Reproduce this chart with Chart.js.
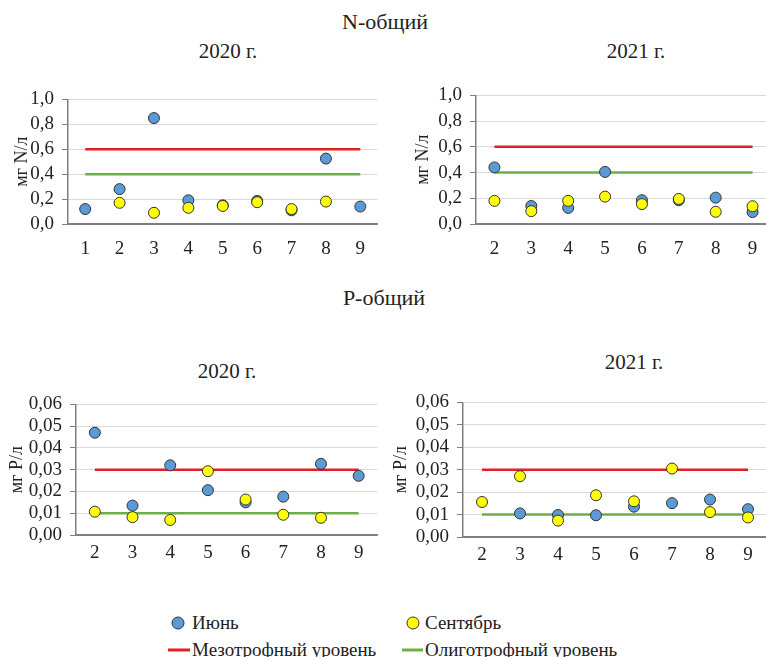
<!DOCTYPE html>
<html lang="ru">
<head>
<meta charset="utf-8">
<script src="https://cdn.jsdelivr.net/npm/chart.js@4/dist/chart.umd.min.js"></script>
<style>
  html, body { margin: 0; padding: 0; background: #fff; }
  body { width: 766px; height: 657px; position: relative; overflow: hidden; font-family: "Liberation Serif", serif; color: #222; }
  canvas { position: absolute; }
  .t { position: absolute; white-space: nowrap; transform: translate(-50%, -50%); font-size: 21px; }
  .leg { position: absolute; white-space: nowrap; font-size: 19px; transform: translateY(-50%); }
  .dot { position: absolute; width: 11px; height: 11px; border-radius: 50%; border: 1px solid #333; transform: translate(-50%, -50%); }
  .bar { position: absolute; height: 3px; transform: translateY(-50%); }
</style>
</head>
<body>
<div class="t" style="left:385px; top:22px; font-size:22px;">N-общий</div>
<div class="t" style="left:228px; top:51px;">2020 г.</div>
<div class="t" style="left:636px; top:51px;">2021 г.</div>
<div class="t" style="left:384px; top:298px; font-size:22px;">P-общий</div>
<div class="t" style="left:227px; top:371px;">2020 г.</div>
<div class="t" style="left:634px; top:362px;">2021 г.</div>

<canvas id="n2020"></canvas>
<canvas id="n2021"></canvas>
<canvas id="p2020"></canvas>
<canvas id="p2021"></canvas>

<div class="dot" style="left:178px; top:623px; background:#5b9bd5;"></div>
<div class="leg" style="left:192px; top:623px;">Июнь</div>
<div class="dot" style="left:413px; top:623px; background:#ffff00;"></div>
<div class="leg" style="left:425px; top:623px;">Сентябрь</div>
<div class="bar" style="left:168px; top:650px; width:22px; background:#e31e24;"></div>
<div class="leg" style="left:192px; top:650px;">Мезотрофный уровень</div>
<div class="bar" style="left:402px; top:650px; width:21px; background:#70ad47;"></div>
<div class="leg" style="left:425px; top:650px;">Олиготрофный уровень</div>

<script>
// Stations
const stations2020N = ['1', '2', '3', '4', '5', '6', '7', '8', '9'];
const stations = ['2', '3', '4', '5', '6', '7', '8', '9'];

// N-общий, мг N/л
const juneN2020 = [0.12, 0.28, 0.85, 0.19, 0.15, 0.185, 0.11, 0.525, 0.14];
const septN2020 = [null, 0.17, 0.09, 0.13, 0.145, 0.175, 0.12, 0.18, null];
const juneN2021 = [0.44, 0.14, 0.125, 0.405, 0.185, 0.185, 0.205, 0.093];
const septN2021 = [0.18, 0.10, 0.18, 0.213, 0.155, 0.195, 0.095, 0.138];

// P-общий, мг P/л
const juneP2020 = [0.047, 0.0135, 0.032, 0.0206, 0.015, 0.0176, 0.0327, 0.0272];
const septP2020 = [0.0107, 0.0082, 0.0069, 0.0293, 0.0163, 0.0093, 0.0079, null];
const juneP2021 = [null, 0.0105, 0.0098, 0.0097, 0.0135, 0.0151, 0.0167, 0.0124];
const septP2021 = [0.0156, 0.0271, 0.0073, 0.0186, 0.0159, 0.0305, 0.0111, 0.0087];

// Trophic levels
const mezoN = 0.6, oligoN = 0.4;
const mezoP = 0.03, oligoP = 0.01;

const axisColor = '#7f7f7f';
const gridColor = '#d9d9d9';
const textColor = '#222';
const tickFont = { family: 'Liberation Serif', size: 19 };
const titleFont = { family: 'Liberation Serif', size: 18 };

function makePanel(id, labels, june, sept, mezo, oligo, yMax, step, digits, yTitle, box) {
    const canvas = document.getElementById(id);
    canvas.width = box.width;
    canvas.height = box.height;
    canvas.style.left = box.left + 'px';
    canvas.style.top = box.top + 'px';

    const pointSet = (label, data, color, order) => ({
        label: label,
        data: data,
        showLine: false,
        pointRadius: 5.5,
        pointBackgroundColor: color,
        pointBorderColor: '#333',
        pointBorderWidth: 1,
        order: order
    });
    const levelSet = (label, level, color, order) => ({
        label: label,
        data: labels.map(() => level),
        borderColor: color,
        borderWidth: 2.5,
        pointRadius: 0,
        order: order
    });

    new Chart(canvas, {
        type: 'line',
        data: {
            labels: labels,
            datasets: [
                pointSet('Июнь', june, '#5b9bd5', 2),
                pointSet('Сентябрь', sept, '#ffff00', 1),
                levelSet('Мезотрофный уровень', mezo, '#e31e24', 3),
                levelSet('Олиготрофный уровень', oligo, '#70ad47', 4)
            ]
        },
        options: {
            responsive: false,
            animation: false,
            layout: {
                padding: {
                    left: 0,
                    top: box.plotTop - box.top,
                    right: box.left + box.width - box.plotRight,
                    bottom: 0
                }
            },
            plugins: {
                legend: { display: false },
                tooltip: { enabled: false }
            },
            scales: {
                x: {
                    offset: true,
                    grid: { display: true, drawOnChartArea: false, drawTicks: false },
                    border: { color: axisColor, width: 1.5 },
                    ticks: { color: textColor, font: tickFont, padding: box.xPad },
                    afterFit: s => { s.height = box.top + box.height - box.plotBottom; }
                },
                y: {
                    min: 0,
                    max: yMax,
                    ticks: {
                        stepSize: step,
                        autoSkip: false,
                        color: textColor,
                        font: tickFont,
                        padding: 8,
                        callback: v => v.toFixed(digits).replace('.', ',')
                    },
                    grid: {
                        color: c => (c.tick && c.tick.value === 0) ? axisColor : gridColor,
                        tickColor: axisColor,
                        tickLength: 6
                    },
                    border: { color: axisColor, width: 1.5 },
                    title: {
                        display: true,
                        text: yTitle,
                        color: textColor,
                        font: titleFont,
                        padding: { top: box.titleX - box.left - titleFont.size * 0.6, bottom: 0 }
                    },
                    afterFit: s => { s.width = box.plotLeft - box.left; }
                }
            }
        }
    });
}

makePanel('n2020', stations2020N, juneN2020, septN2020, mezoN, oligoN, 1.0, 0.2, 1, 'мг N/л',
    { left: 0, top: 80, width: 384, height: 185, plotLeft: 68, plotTop: 97, plotRight: 381, plotBottom: 224, titleX: 22, xPad: 14 });
makePanel('n2021', stations, juneN2021, septN2021, mezoN, oligoN, 1.0, 0.2, 1, 'мг N/л',
    { left: 388, top: 76, width: 390, height: 189, plotLeft: 476, plotTop: 91, plotRight: 771, plotBottom: 224, titleX: 423, xPad: 14 });
makePanel('p2020', stations, juneP2020, septP2020, mezoP, oligoP, 0.06, 0.01, 2, 'мг P/л',
    { left: 0, top: 385, width: 384, height: 185, plotLeft: 76, plotTop: 399, plotRight: 382, plotBottom: 535, titleX: 17, xPad: 7 });
makePanel('p2021', stations, juneP2021, septP2021, mezoP, oligoP, 0.06, 0.01, 2, 'мг P/л',
    { left: 385, top: 383, width: 393, height: 187, plotLeft: 463, plotTop: 397, plotRight: 767, plotBottom: 537, titleX: 401, xPad: 7 });
</script>
</body>
</html>
